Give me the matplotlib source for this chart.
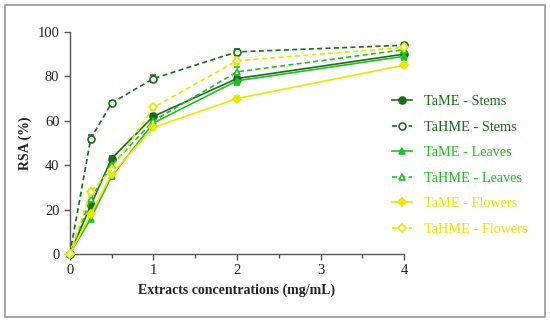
import matplotlib
matplotlib.use("Agg")
import matplotlib.pyplot as plt
from matplotlib.patches import Rectangle

conc = [0, 0.25, 0.5, 1, 2, 4]
tame_stems = [0, 22, 43, 62, 79, 90]
tahme_stems = [0, 52, 68, 79, 91, 94]
tame_leaves = [0, 16, 35, 59, 78, 89]
tahme_leaves = [0, 25, 40, 60, 82, 92]
tame_flowers = [0, 18, 36, 57, 70, 85]
tahme_flowers = [0, 28, 38, 66, 87, 93]

err_tame_stems = [0, 1, 1, 1, 2.5, 1.5]
err_tahme_stems = [0, 1.5, 1, 1.5, 1.5, 1]
err_tame_leaves = [0, 1, 1, 1.5, 2, 1.5]
err_tahme_leaves = [0, 1.5, 1.5, 1.5, 2, 1]
err_tame_flowers = [0, 1, 1, 1, 1, 1]
err_tahme_flowers = [0, 1.5, 1.5, 1, 1.5, 1]

labels = ["TaME - Stems", "TaHME - Stems", "TaME - Leaves",
          "TaHME - Leaves", "TaME - Flowers", "TaHME - Flowers"]

dark = "#1b6b1b"
green = "#22c022"
yellow = "#e8e800"

plt.rcParams['font.family'] = ['Liberation Serif', 'DejaVu Serif']

fig = plt.figure(figsize=(5.5, 3.22), dpi=100)
fig.patches.append(Rectangle((5/550, 5/322), 540/550, 312/322, transform=fig.transFigure,
                             fill=False, edgecolor="#999999", linewidth=1.2))
ax = fig.add_axes([0.127, 0.211, 0.608, 0.690])

series = [
    (tame_stems, err_tame_stems, dark, '-', 'o', dark, 5),
    (tahme_stems, err_tahme_stems, dark, '--', 'o', 'white', 5),
    (tame_leaves, err_tame_leaves, green, '-', '^', green, 5),
    (tahme_leaves, err_tahme_leaves, green, '--', '^', 'white', 5),
    (tame_flowers, err_tame_flowers, yellow, '-', 'D', yellow, 4),
    (tahme_flowers, err_tahme_flowers, yellow, '--', 'D', 'white', 4),
]
handles = []
for (vals, errs, c, ls, m, fc, ms), lab in zip(series, labels):
    h = ax.errorbar(conc, vals, yerr=errs, color=c, linestyle=ls, marker=m,
                    markerfacecolor=fc, markeredgecolor=c, markersize=ms,
                    markeredgewidth=1.2, linewidth=1.2, capsize=2.5,
                    elinewidth=1, label=lab, clip_on=False, zorder=3)
    if ls == '--':
        h[0].set_dashes((3, 2))
    handles.append(h[0])

ax.set_xlim(0, 4)
ax.set_ylim(0, 100)
ax.set_xticks([0, 1, 2, 3, 4])
ax.set_xticks([0.5, 1.5, 2.5, 3.5], minor=True)
ax.set_yticks([0, 20, 40, 60, 80, 100])
for s in ['top', 'right']:
    ax.spines[s].set_visible(False)
for s in ['left', 'bottom']:
    ax.spines[s].set_color('#555555')
    ax.spines[s].set_linewidth(1.0)
ax.tick_params(axis='both', which='both', colors='#555555', labelcolor='#222222',
               labelsize=10.5, length=4, width=1.0)
ax.tick_params(axis='x', which='minor', length=3)
ax.set_xlabel("Extracts concentrations (mg/mL)", fontsize=10, fontweight='bold', color='#222222')
ax.set_ylabel("RSA (%)", fontsize=10, fontweight='bold', color='#222222')

leg = fig.legend(handles=handles, labels=labels, loc='upper left',
                 bbox_to_anchor=(0.69, 0.745), frameon=False, fontsize=10.3,
                 handlelength=1.4, labelspacing=0.88, handletextpad=0.8)
colors = [dark, dark, green, green, yellow, yellow]
for t, c in zip(leg.get_texts(), colors):
    t.set_color(c)

fig.savefig("out.png", dpi=100)
